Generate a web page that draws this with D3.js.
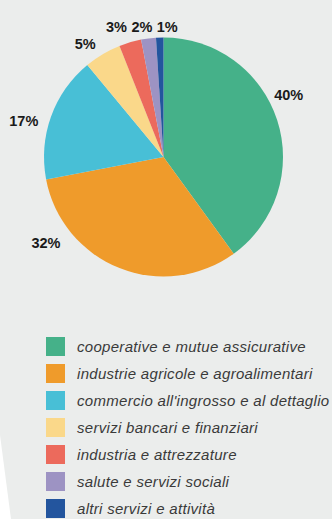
<!DOCTYPE html>
<html>
<head>
<meta charset="utf-8">
<script src="https://cdn.jsdelivr.net/npm/d3@7"></script>
<style>
  html, body { margin: 0; padding: 0; background: #fff; }
  svg { display: block; }
</style>
</head>
<body>
<script>
var width = 332;
var height = 519;

// data
var categories = [
    "cooperative e mutue assicurative",
    "industrie agricole e agroalimentari",
    "commercio all'ingrosso e al dettaglio",
    "servizi bancari e finanziari",
    "industria e attrezzature",
    "salute e servizi sociali",
    "altri servizi e attività"
];
var values = [40, 32, 17, 5, 3, 2, 1];
var colors = ["#45b189", "#ef9b2b", "#48bfd6", "#fad88a", "#ec6a5c", "#9d93c3", "#23559e"];

// label nudges (layout only), relative to label arc centroid
var labelNudge = [
    [-8, -19], [-66, -44], [-8, 11], [-7, 7], [-8, 4], [-4, 9], [8, 10]
];

var cx = 163.5, cy = 157, radius = 119.5;

var svg = d3.select("body").append("svg").attr("width", width).attr("height", height);

// background panel with slanted lower left edge
svg.append("polygon")
    .attr("points", [[0, 0], [width, 0], [width, height], [11, height], [0, 435]].map(function (p) { return p.join(","); }).join(" "))
    .attr("fill", "#ebedec");

var pie = d3.pie().sort(null).value(function (d) { return d; });
var arcs = pie(values);
var arc = d3.arc().innerRadius(0).outerRadius(radius);
var labelArc = d3.arc().innerRadius(140).outerRadius(140);

var g = svg.append("g").attr("transform", "translate(" + cx + "," + cy + ")");

g.selectAll("path")
    .data(arcs)
    .enter()
    .append("path")
    .attr("d", arc)
    .attr("fill", function (d, i) { return colors[i]; });

g.selectAll("text")
    .data(arcs)
    .enter()
    .append("text")
    .attr("x", function (d, i) { return labelArc.centroid(d)[0] + labelNudge[i][0]; })
    .attr("y", function (d, i) { return labelArc.centroid(d)[1] + labelNudge[i][1]; })
    .attr("text-anchor", "middle")
    .attr("dy", "0.36em")
    .style("font-family", "'Liberation Sans', Arial, sans-serif")
    .style("font-weight", "bold")
    .style("font-size", "14.5px")
    .style("fill", "#1a1a1a")
    .text(function (d) { return d.data + "%"; });

// legend
var legend = svg.append("g").attr("transform", "translate(46,337)");
var rows = legend.selectAll("g")
    .data(categories)
    .enter()
    .append("g")
    .attr("transform", function (d, i) { return "translate(0," + (i * 27) + ")"; });

rows.append("rect")
    .attr("width", 19)
    .attr("height", 19)
    .attr("fill", function (d, i) { return colors[i]; });

rows.append("text")
    .attr("x", 31)
    .attr("y", 10)
    .attr("dy", "0.36em")
    .style("font-family", "'Liberation Sans', Arial, sans-serif")
    .style("font-style", "italic")
    .style("font-size", "15px")
    .style("letter-spacing", "0.3px")
    .style("fill", "#3a3a3a")
    .text(function (d) { return d; });
</script>
</body>
</html>
